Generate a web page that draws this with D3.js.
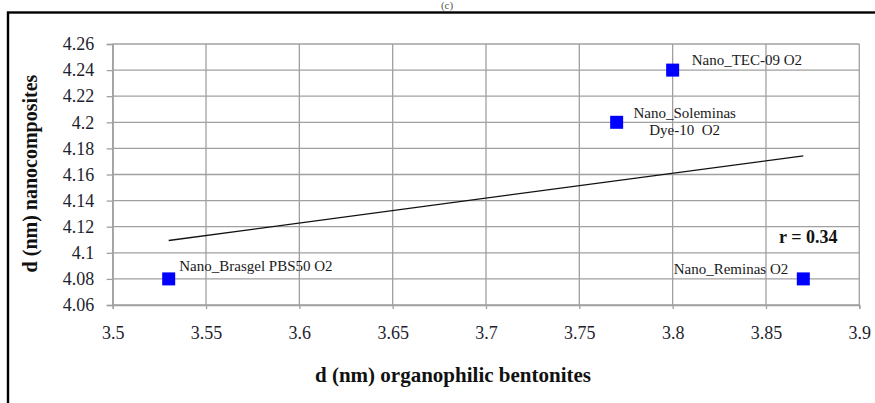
<!DOCTYPE html>
<html>
<head>
<meta charset="utf-8">
<script src="https://cdn.jsdelivr.net/npm/d3@7"></script>
<style>
  html, body { margin: 0; padding: 0; background: #fff; }
  svg { display: block; }
  text { font-family: "Liberation Serif", "Times New Roman", serif; }
</style>
</head>
<body>
<svg id="chart" width="875" height="403"></svg>
<script>
// ---- data ----
const names = ["Nano_Brasgel PBS50 O2", "Nano_Soleminas Dye-10  O2", "Nano_TEC-09 O2", "Nano_Reminas O2"];
const organophilic = [3.53, 3.77, 3.80, 3.87];
const nanocomposites = [4.08, 4.20, 4.24, 4.08];
const xTicks = [3.5, 3.55, 3.6, 3.65, 3.7, 3.75, 3.8, 3.85, 3.9];
const yTicks = [4.06, 4.08, 4.1, 4.12, 4.14, 4.16, 4.18, 4.2, 4.22, 4.24, 4.26];
const rLabel = "r = 0.34";
const xTitle = "d (nm) organophilic bentonites";
const yTitle = "d (nm) nanocomposites";
const panelTitle = "(c)";

(function () {
// ---- layout ----
const svg = d3.select("#chart");
const pL = 112.7, pR = 859.3, pT = 44, pB = 305;
const x = d3.scaleLinear().domain([3.5, 3.9]).range([pL, pR]);
const y = d3.scaleLinear().domain([4.06, 4.26]).range([pB, pT]);

// outer frame
svg.append("rect").attr("x", 8).attr("y", 12.5).attr("width", 900).attr("height", 420)
  .attr("fill", "none").attr("stroke", "#000").attr("stroke-width", 2.4);

svg.append("text").attr("x", 447).attr("y", 9).attr("text-anchor", "middle")
  .style("font-size", "11px").attr("fill", "#555").text(panelTitle);

const gridColor = "#a0a0a0";
// gridlines
svg.append("g").selectAll("line").data(yTicks).join("line")
  .attr("x1", pL).attr("x2", pR).attr("y1", d => y(d)).attr("y2", d => y(d))
  .attr("stroke", gridColor).attr("stroke-width", 1.3);
svg.append("g").selectAll("line").data(xTicks).join("line")
  .attr("x1", d => x(d)).attr("x2", d => x(d)).attr("y1", pT).attr("y2", pB)
  .attr("stroke", gridColor).attr("stroke-width", 1.3);

// axes
const yAxis = svg.append("g").attr("transform", `translate(${pL},0)`)
  .call(d3.axisLeft(y).tickValues(yTicks).tickFormat(d => String(+d.toFixed(2))).tickSize(6).tickPadding(12.5));
const xAxis = svg.append("g").attr("transform", `translate(0,${pB})`)
  .call(d3.axisBottom(x).tickValues(xTicks).tickFormat(d => String(+d.toFixed(2))).tickSize(4).tickPadding(17));
[yAxis, xAxis].forEach(g => {
  g.select(".domain").attr("stroke", gridColor).attr("stroke-width", 1.3);
  g.selectAll(".tick line").attr("stroke", gridColor).attr("stroke-width", 1.3);
  g.selectAll(".tick text").attr("fill", "#1e1e2e")
    .style("font-family", "'Liberation Serif', serif").style("font-size", "18px");
});

// trend line (least squares from the data)
const mx = d3.mean(organophilic), my = d3.mean(nanocomposites);
let sxy = 0, sxx = 0;
organophilic.forEach((v, i) => { sxy += (v - mx) * (nanocomposites[i] - my); sxx += (v - mx) ** 2; });
const slope = sxy / sxx, icpt = my - slope * mx;
const x0 = d3.min(organophilic), x1 = d3.max(organophilic);
svg.append("line")
  .attr("x1", x(x0)).attr("y1", y(icpt + slope * x0))
  .attr("x2", x(x1)).attr("y2", y(icpt + slope * x1))
  .attr("stroke", "#111").attr("stroke-width", 1.3);

// points
const pts = names.map((n, i) => ({ name: n, x: organophilic[i], y: nanocomposites[i] }));
const sz = 13;
svg.append("g").selectAll("rect").data(pts).join("rect")
  .attr("x", d => x(d.x) - sz / 2).attr("y", d => y(d.y) - sz / 2)
  .attr("width", sz).attr("height", sz).attr("fill", "#0000ff");

// point labels
const labelOffsets = [
  { dx: 10.6, dy: -8, anchor: "start" },
  { dx: 68, dy: -4, anchor: "middle", split: true },
  { dx: 19, dy: -5, anchor: "start" },
  { dx: -15, dy: -5, anchor: "end" }
];
pts.forEach((d, i) => {
  const o = labelOffsets[i];
  const t = svg.append("text")
    .attr("x", x(d.x) + o.dx).attr("y", y(d.y) + o.dy)
    .attr("text-anchor", o.anchor).attr("fill", "#1a1a1a")
    .style("font-size", "15px");
  if (o.split) {
    const parts = d.name.split(" ");
    t.append("tspan").attr("x", x(d.x) + o.dx).text(parts[0]);
    t.append("tspan").attr("x", x(d.x) + o.dx).attr("dy", 17).text(parts.slice(1).join(" ").replace(" ", "\u00a0"));
  } else {
    t.text(d.name);
  }
});

// r annotation
svg.append("text").attr("x", x(3.857)).attr("y", y(4.1077))
  .style("font-size", "18px").style("font-weight", "bold").attr("fill", "#111").text(rLabel);

// axis titles
svg.append("text").attr("x", (pL + pR) / 2 - 33).attr("y", 381.5)
  .attr("text-anchor", "middle").style("font-size", "21px").style("font-weight", "bold")
  .attr("fill", "#111").text(xTitle);
svg.append("text").attr("transform", `translate(37,${(pT + pB) / 2 - 1}) rotate(-90)`)
  .attr("text-anchor", "middle").style("font-size", "20px").style("font-weight", "bold")
  .attr("fill", "#111").text(yTitle);
})();
</script>
</body>
</html>
